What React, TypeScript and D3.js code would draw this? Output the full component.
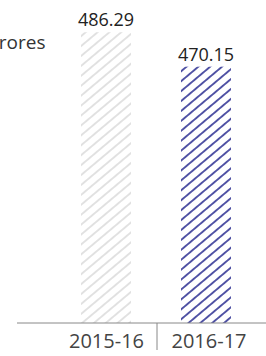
import React, { useEffect, useRef } from "react";
import * as d3 from "d3";

const years = ["2015-16", "2016-17"];
const amounts = [486.29, 470.15];
const hatchColors = ["#c6c6c6", "#2e3192"];
const hatchWidths = [1, 1.6];
const unitLabel = "Rs. in crores";

const App = () => {
  const svgRef = useRef<SVGSVGElement | null>(null);

  useEffect(() => {
    const width = 266;
    const height = 356;
    const svg = d3.select(svgRef.current).attr("width", width).attr("height", height);
    svg.selectAll("*").remove();

    const font = "'Open Sans', sans-serif";
    const x = d3.scaleBand().domain(years).range([56, 256]).paddingInner(0.5).paddingOuter(0.25);
    const y = d3.scaleLinear().domain([350, 500]).range([323, 3]);

    // hatch patterns
    const defs = svg.append("defs");
    hatchColors.forEach((c, i) => {
      const p = defs
        .append("pattern")
        .attr("id", "hatch" + i)
        .attr("patternUnits", "userSpaceOnUse")
        .attr("width", 8)
        .attr("height", 7.6)
        .attr("patternTransform", "rotate(-40)");
      p.append("line")
        .attr("x1", 0)
        .attr("x2", 8)
        .attr("y1", 3.8)
        .attr("y2", 3.8)
        .attr("stroke", c)
        .attr("stroke-width", hatchWidths[i]);
    });

    // bars
    svg
      .selectAll(".bar")
      .data(years)
      .enter()
      .append("rect")
      .attr("x", (d) => x(d)!)
      .attr("y", (d, i) => y(amounts[i]))
      .attr("width", x.bandwidth())
      .attr("height", (d, i) => y(350) - y(amounts[i]))
      .attr("fill", (d, i) => `url(#hatch${i})`);

    // value labels
    svg
      .selectAll(".val")
      .data(years)
      .enter()
      .append("text")
      .attr("x", (d) => x(d)! + x.bandwidth() / 2)
      .attr("y", (d, i) => y(amounts[i]) - 6)
      .attr("text-anchor", "middle")
      .attr("fill", "#222")
      .style("font-family", font)
      .style("font-size", "18px")
      .text((d, i) => amounts[i].toFixed(2));

    // axis line
    svg
      .append("line")
      .attr("x1", 17)
      .attr("x2", width)
      .attr("y1", y(350))
      .attr("y2", y(350))
      .attr("stroke", "#888")
      .attr("stroke-width", 1);

    // divider between categories
    const mid = x(years[1])! - (x.step() * x.paddingInner()) / 2 + 1;
    svg
      .append("line")
      .attr("x1", mid)
      .attr("x2", mid)
      .attr("y1", y(350))
      .attr("y2", 350)
      .attr("stroke", "#888")
      .attr("stroke-width", 1);

    // category labels
    svg
      .selectAll(".cat")
      .data(years)
      .enter()
      .append("text")
      .attr("x", (d, i) => x(d)! + x.bandwidth() / 2 + (i === 0 ? 0.5 : 3))
      .attr("y", 348)
      .attr("text-anchor", "middle")
      .attr("fill", "#444")
      .style("font-family", font)
      .style("font-size", "20px")
      .text((d) => d);

    // unit label (cut off at left)
    svg
      .append("text")
      .attr("x", 45.5)
      .attr("y", 49)
      .attr("text-anchor", "end")
      .attr("fill", "#333")
      .style("font-family", font)
      .style("font-size", "19px")
      .text(unitLabel);
  }, []);

  return <svg ref={svgRef} style={{ position: "absolute", left: 0, top: 0 }}></svg>;
};

export default App;
